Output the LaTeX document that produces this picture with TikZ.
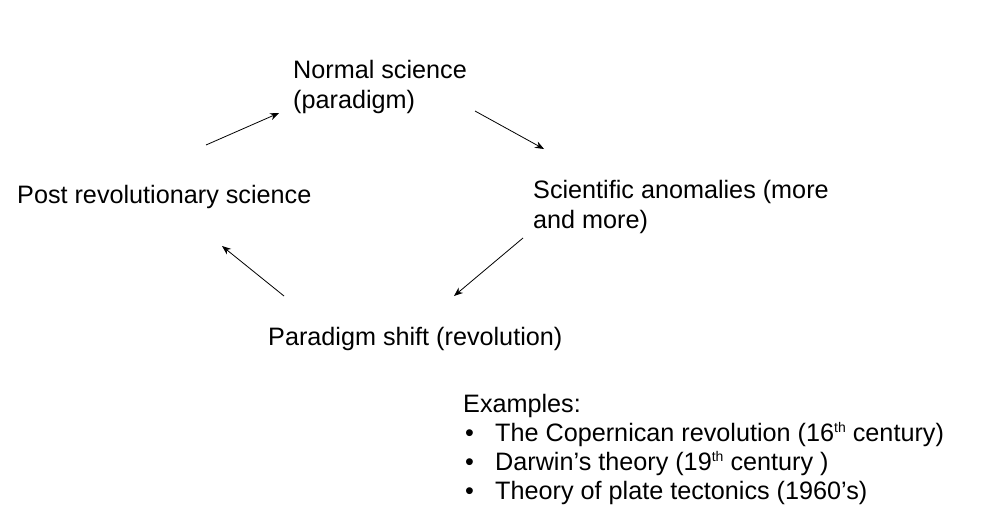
\documentclass[tikz,border=0pt]{standalone}
\usepackage{fontspec}
\setmainfont{Liberation Sans}
\usetikzlibrary{arrows.meta}
\newcommand{\ordsup}[1]{\raisebox{8.5pt}{\fontsize{14}{14}\selectfont #1}}

\begin{document}
\begin{tikzpicture}[
      x=1pt, y=-1pt,
      stage/.style={anchor=base west, inner sep=0pt, align=left, font=\fontsize{25.2}{30}\selectfont}, % etapas del ciclo (base = ultima linea)
      flow/.style={-{Stealth[length=9pt, width=7pt]}, line width=0.8pt}
    ]
    \useasboundingbox (0,0) rectangle (992,520);
    % Etapas
    \node [stage] (normal) at (293,108) {Normal science\\(paradigm)};
    \node [stage] (anomalies) at (533,228) {Scientific anomalies (more\\and more)};
    \node [stage] (shift) at (268,345) {Paradigm shift (revolution)};
    \node [stage] (post) at (17,203) {Post revolutionary science};
    % Ejemplos
    \node [stage, font=\fontsize{25.2}{29}\selectfont] (examples) at (463,499) {Examples:\\
      \makebox[32pt][l]{\hspace{2pt}•}The Copernican revolution (16\ordsup{th} century)\\
      \makebox[32pt][l]{\hspace{2pt}•}Darwin’s theory (19\ordsup{th} century )\\
      \makebox[32pt][l]{\hspace{2pt}•}Theory of plate tectonics (1960’s)};
    % Extremos de las flechas
    \coordinate (a1) at (206,145); \coordinate (b1) at (279,113);
    \coordinate (a2) at (475,111); \coordinate (b2) at (544,149);
    \coordinate (a3) at (523,238); \coordinate (b3) at (454,296);
    \coordinate (a4) at (284,296); \coordinate (b4) at (222,246);
    % Flechas del ciclo
    \draw [flow] (a1) -- (b1);
    \draw [flow] (a2) -- (b2);
    \draw [flow] (a3) -- (b3);
    \draw [flow] (a4) -- (b4);
    \end{tikzpicture}
\end{document}
